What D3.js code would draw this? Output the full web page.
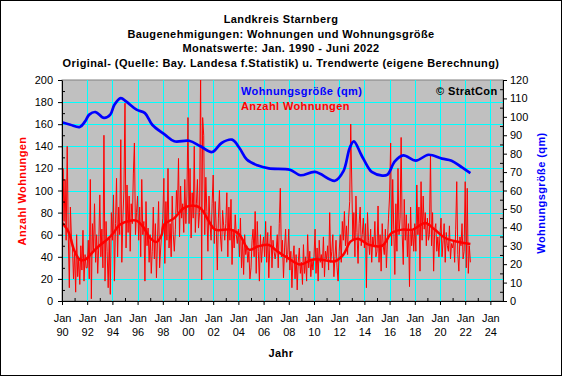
<!DOCTYPE html>
<html>
<head>
<meta charset="utf-8">
<script src="https://cdn.jsdelivr.net/npm/d3@7"></script>
<style>
  body { margin: 0; background: #fff; }
  svg text { font-family: "Liberation Sans", Arial, sans-serif; }
  .bold { font-weight: bold; letter-spacing: 0.4px; }
</style>
</head>
<body>
<div id="chart"></div>
<script>
// titles
const titles = [
  "Landkreis Starnberg",
  "Baugenehmigungen: Wohnungen und Wohnungsgröße",
  "Monatswerte: Jan. 1990 - Juni 2022",
  "Original- (Quelle: Bay. Landesa f.Statistik) u. Trendwerte (eigene Berechnung)"
];

// monthly building permits (Anzahl Wohnungen), Jan 1990 .. Jun 2022
const anzahl = [
  32, 120, 72, 110, 55, 140, 62, 12, 85, 58, 48, 20,   // 1990
  45, 8, 60, 22, 38, 15, 50, 28, 64, 18, 42, 30,       // 1991
  30, 55, 20, 110, 2, 70, 45, 88, 35, 60, 25, 50,      // 1992
  96, 40, 65, 30, 150, 18, 72, 45, 12, 58, 6, 80,      // 1993
  55, 96, 18, 70, 111, 40, 85, 60, 146, 35, 75, 100,   // 1994
  179, 48, 105, 62, 95, 45, 88, 70, 115, 143, 60, 80,  // 1995
  95, 55, 85, 40, 110, 60, 72, 18, 90, 50, 66, 35,     // 1996
  60, 25, 45, 85, 38, 70, 21, 55, 90, 30, 48, 62,      // 1997
  75, 111, 34, 90, 55, 120, 48, 70, 40, 95, 60, 45,    // 1998
  65, 100, 80, 129, 58, 104, 75, 88, 62, 110, 70, 95,  // 1999
  166, 70, 120, 57, 98, 75, 140, 62, 88, 110, 66, 80,  // 2000
  205, 19, 166, 150, 60, 112, 81, 45, 95, 70, 55, 88,  // 2001
  114, 52, 90, 65, 28, 75, 100, 58, 45, 82, 68, 55,    // 2002
  70, 98, 40, 85, 55, 92, 33, 65, 48, 78, 60, 52,      // 2003
  65, 40, 75, 30, 55, 24, 60, 42, 50, 35, 45, 20,      // 2004
  30, 55, 65, 40, 81, 25, 72, 45, 18, 60, 35, 50,      // 2005
  58, 40, 72, 35, 62, 21, 50, 68, 30, 55, 45, 38,      // 2006
  45, 60, 30, 70, 102, 40, 55, 21, 48, 65, 35, 42,     // 2007
  65, 28, 45, 12, 38, 50, 20, 42, 10, 35, 48, 25,      // 2008
  35, 15, 51, 25, 40, 18, 60, 30, 45, 22, 38, 28,      // 2009
  40, 65, 25, 48, 18, 55, 35, 42, 30, 58, 22, 45,      // 2010
  38, 50, 28, 80, 35, 45, 60, 22, 40, 55, 30, 18,      // 2011
  45, 60, 35, 72, 55, 81, 50, 68, 42, 75, 90, 160,     // 2012
  105, 55, 80, 40, 95, 62, 34, 70, 85, 50, 60, 75,     // 2013
  48, 70, 12, 80, 55, 42, 65, 35, 58, 50, 72, 40,      // 2014
  45, 86, 35, 60, 27, 70, 50, 42, 65, 30, 55, 75,      // 2015
  95, 143, 50, 110, 65, 24, 88, 45, 120, 60, 75, 148,  // 2016
  60, 33, 92, 55, 78, 40, 70, 13, 85, 50, 65, 45,      // 2017
  70, 45, 105, 60, 85, 27, 108, 55, 95, 65, 80, 50,    // 2018
  75, 55, 60, 132, 50, 80, 27, 65, 70, 45, 58, 40,     // 2019
  60, 75, 40, 55, 70, 35, 62, 50, 45, 68, 38, 52,      // 2020
  48, 55, 35, 65, 108, 42, 27, 58, 50, 70, 38, 45,     // 2021
  108, 30, 102, 25, 50, 35                             // 2022
];

// trend of Anzahl Wohnungen (decimal year, value)
const trendAnzYears = [1990, 1990.5, 1991.03, 1991.43, 1991.8, 1992.5, 1993, 1993.55, 1994.1, 1994.6, 1995.4, 1995.9, 1996.45, 1997, 1997.5, 1997.9, 1998.1, 1998.9, 1999.7, 2000.5, 2001, 2001.7, 2002.2, 2003.4, 2004.05, 2004.8, 2005.6, 2006.4, 2007.1, 2007.9, 2008.9, 2009.8, 2010.6, 2011.65, 2012.3, 2012.95, 2013.5, 2014.3, 2015.4, 2016.2, 2017, 2017.8, 2018.83, 2019.6, 2020.4, 2021.5, 2022.45];
const trendAnz      = [71, 63, 45, 37.5, 37.5, 45, 50.5, 55.5, 61.5, 69, 72.7, 72.7, 67.5, 57, 53.5, 60, 69, 75, 84, 86.3, 84, 72, 64.6, 64.6, 60, 46.5, 49.5, 50.7, 45, 39, 33, 37.4, 37.4, 36, 42, 54, 56.4, 51, 50, 61.5, 64.6, 64.6, 70.6, 64.6, 57, 53.4, 51.6];

// trend of Wohnungsgröße in qm (decimal year, value)
const trendQmYears = [1990, 1990.63, 1991.43, 1991.8, 1992.2, 1992.7, 1993.3, 1993.8, 1994.2, 1994.7, 1995.1, 1995.9, 1996.6, 1997.2, 1998.2, 1998.9, 2000.1, 2001, 2001.9, 2002.7, 2003.5, 2004.05, 2004.7, 2005.5, 2006.4, 2008.07, 2008.9, 2010.05, 2011.65, 2012.3, 2012.83, 2013.2, 2013.75, 2014.3, 2014.6, 2015.4, 2015.8, 2016.45, 2017.1, 2018.05, 2019.1, 2020.16, 2020.95, 2021.75, 2022.45];
const trendQm      = [97, 95.7, 94.5, 97.5, 101.2, 102.6, 99.4, 101.2, 106.6, 110.2, 108.4, 103.9, 102, 95.7, 90.3, 86.7, 87, 84, 80.9, 85.8, 87.6, 83.1, 76.8, 73.7, 72, 71.3, 68.3, 70.1, 65.3, 70.4, 83.1, 86.7, 79.4, 72.2, 70.1, 68.1, 68.6, 75.8, 79.1, 76.2, 79.4, 77.3, 76.2, 72.5, 69.5];

const leftTicks = d3.range(0, 201, 20);
const rightTicks = d3.range(0, 121, 10);
const yearTicks = d3.range(1990, 2025, 2);

const W = 562, H = 376;
const plot = { left: 62, right: 503, top: 80, bottom: 301 };

const svg = d3.select("#chart").append("svg")
  .attr("width", W).attr("height", H);

svg.append("rect")
  .attr("x", 0.5).attr("y", 0.5)
  .attr("width", W - 1).attr("height", H - 1)
  .attr("fill", "#fff").attr("stroke", "#000");

const yearDate = y => {
  const yr = Math.floor(y);
  return new Date(yr, Math.round((y - yr) * 12), 1);
};

const x = d3.scaleTime()
  .domain([new Date(1990, 0, 1), new Date(2025, 0, 1)])
  .range([plot.left, plot.right]);
const yL = d3.scaleLinear().domain([0, 200]).range([plot.bottom, plot.top]);
const yR = d3.scaleLinear().domain([0, 120]).range([plot.bottom, plot.top]);

// plot background
svg.append("rect")
  .attr("x", plot.left).attr("y", plot.top)
  .attr("width", plot.right - plot.left).attr("height", plot.bottom - plot.top)
  .attr("fill", "#c0c0c0").attr("stroke", "#808080");

// grid
const grid = svg.append("g").attr("stroke", "#00ffff").attr("stroke-width", 1);
grid.selectAll(".h").data(leftTicks.slice(1, -1)).enter().append("line")
  .attr("x1", plot.left).attr("x2", plot.right)
  .attr("y1", d => Math.round(yL(d)) + 0.5).attr("y2", d => Math.round(yL(d)) + 0.5);
grid.selectAll(".v").data(yearTicks.slice(1)).enter().append("line")
  .attr("y1", plot.top).attr("y2", plot.bottom)
  .attr("x1", d => Math.round(x(new Date(d, 0, 1))) + 0.5)
  .attr("x2", d => Math.round(x(new Date(d, 0, 1))) + 0.5);

// clip for the series
svg.append("clipPath").attr("id", "clip").append("rect")
  .attr("x", plot.left).attr("y", plot.top)
  .attr("width", plot.right - plot.left).attr("height", plot.bottom - plot.top);

const series = svg.append("g").attr("clip-path", "url(#clip)");

// monthly values
series.append("path")
  .datum(anzahl)
  .attr("fill", "none")
  .attr("stroke", "#ff0000")
  .attr("stroke-width", 1)
  .attr("d", d3.line()
    .x((d, i) => x(new Date(1990, i, 1)))
    .y(d => yL(d)));

// trend of Anzahl
series.append("path")
  .datum(trendAnz)
  .attr("fill", "none")
  .attr("stroke", "#ff0000")
  .attr("stroke-width", 2.5)
  .attr("d", d3.line().curve(d3.curveCatmullRom)
    .x((d, i) => x(yearDate(trendAnzYears[i])))
    .y(d => yL(d)));

// trend of Wohnungsgröße
series.append("path")
  .datum(trendQm)
  .attr("fill", "none")
  .attr("stroke", "#0000ff")
  .attr("stroke-width", 2.7)
  .attr("d", d3.line().curve(d3.curveCatmullRom)
    .x((d, i) => x(yearDate(trendQmYears[i])))
    .y(d => yR(d)));

// axes
const styleAxis = g => {
  g.select(".domain").attr("stroke", "#000");
  g.selectAll(".tick line").attr("stroke", "#000");
  g.selectAll("text").attr("fill", "#000").attr("font-size", 11)
    .style("font-family", "'Liberation Sans', Arial, sans-serif");
};

// minor ticks
svg.append("g").attr("transform", `translate(${plot.left},0)`)
  .call(d3.axisRight(yL).tickValues(d3.range(10, 200, 20)).tickSize(3).tickFormat(""))
  .call(g => g.select(".domain").remove())
  .call(styleAxis);
svg.append("g").attr("transform", `translate(${plot.right},0)`)
  .call(d3.axisLeft(yR).tickValues(d3.range(5, 120, 10)).tickSize(3).tickFormat(""))
  .call(g => g.select(".domain").remove())
  .call(styleAxis);
svg.append("g").attr("transform", `translate(0,${plot.bottom})`)
  .call(d3.axisTop(x).tickValues(d3.range(1991, 2025, 2).map(y => new Date(y, 0, 1))).tickSize(3).tickFormat(""))
  .call(g => g.select(".domain").remove())
  .call(styleAxis);

svg.append("g").attr("transform", `translate(${plot.left},0)`)
  .call(d3.axisLeft(yL).tickValues(leftTicks).tickSize(4).tickPadding(5).tickSizeOuter(0))
  .call(styleAxis);

svg.append("g").attr("transform", `translate(${plot.right},0)`)
  .call(d3.axisRight(yR).tickValues(rightTicks).tickSize(4).tickPadding(3).tickSizeOuter(0))
  .call(styleAxis);

const xAxis = svg.append("g").attr("transform", `translate(0,${plot.bottom})`)
  .call(d3.axisBottom(x).tickValues(yearTicks.map(y => new Date(y, 0, 1)))
    .tickSize(4).tickSizeOuter(0).tickFormat(""))
  .call(styleAxis);

xAxis.selectAll(".tick").each(function(d) {
  const t = d3.select(this).append("text")
    .attr("fill", "#000").attr("font-size", 11).attr("text-anchor", "middle");
  t.append("tspan").attr("x", 0).attr("y", 21).text("Jan");
  t.append("tspan").attr("x", 0).attr("y", 35).text(d3.timeFormat("%y")(d));
});

// titles
svg.append("g").selectAll("text").data(titles).enter().append("text")
  .attr("class", "bold")
  .attr("x", 281).attr("y", (d, i) => [23, 37.5, 52, 66.5][i])
  .attr("text-anchor", "middle")
  .attr("font-size", 11)
  .text(d => d);

// axis titles
svg.append("text").attr("class", "bold")
  .attr("transform", "translate(26,191) rotate(-90)")
  .attr("text-anchor", "middle").attr("font-size", 11)
  .attr("fill", "#ff0000").text("Anzahl Wohnungen");

svg.append("text").attr("class", "bold")
  .attr("transform", "translate(545,193) rotate(-90)")
  .attr("text-anchor", "middle").attr("font-size", 11)
  .attr("fill", "#0000ff").text("Wohnungsgröße (qm)");

svg.append("text").attr("class", "bold")
  .attr("x", 281).attr("y", 357)
  .attr("text-anchor", "middle").attr("font-size", 11)
  .text("Jahr");

// legend
svg.append("text").attr("class", "bold").attr("x", 241).attr("y", 95)
  .attr("font-size", 11).attr("fill", "#0000ff")
  .text("Wohnungsgröße (qm)");
svg.append("text").attr("class", "bold").attr("x", 241).attr("y", 110)
  .attr("font-size", 11).attr("fill", "#ff0000")
  .text("Anzahl Wohnungen");
svg.append("text").attr("class", "bold").attr("x", 436).attr("y", 95)
  .attr("font-size", 11).attr("fill", "#000")
  .text("© StratCon");
</script>
</body>
</html>
